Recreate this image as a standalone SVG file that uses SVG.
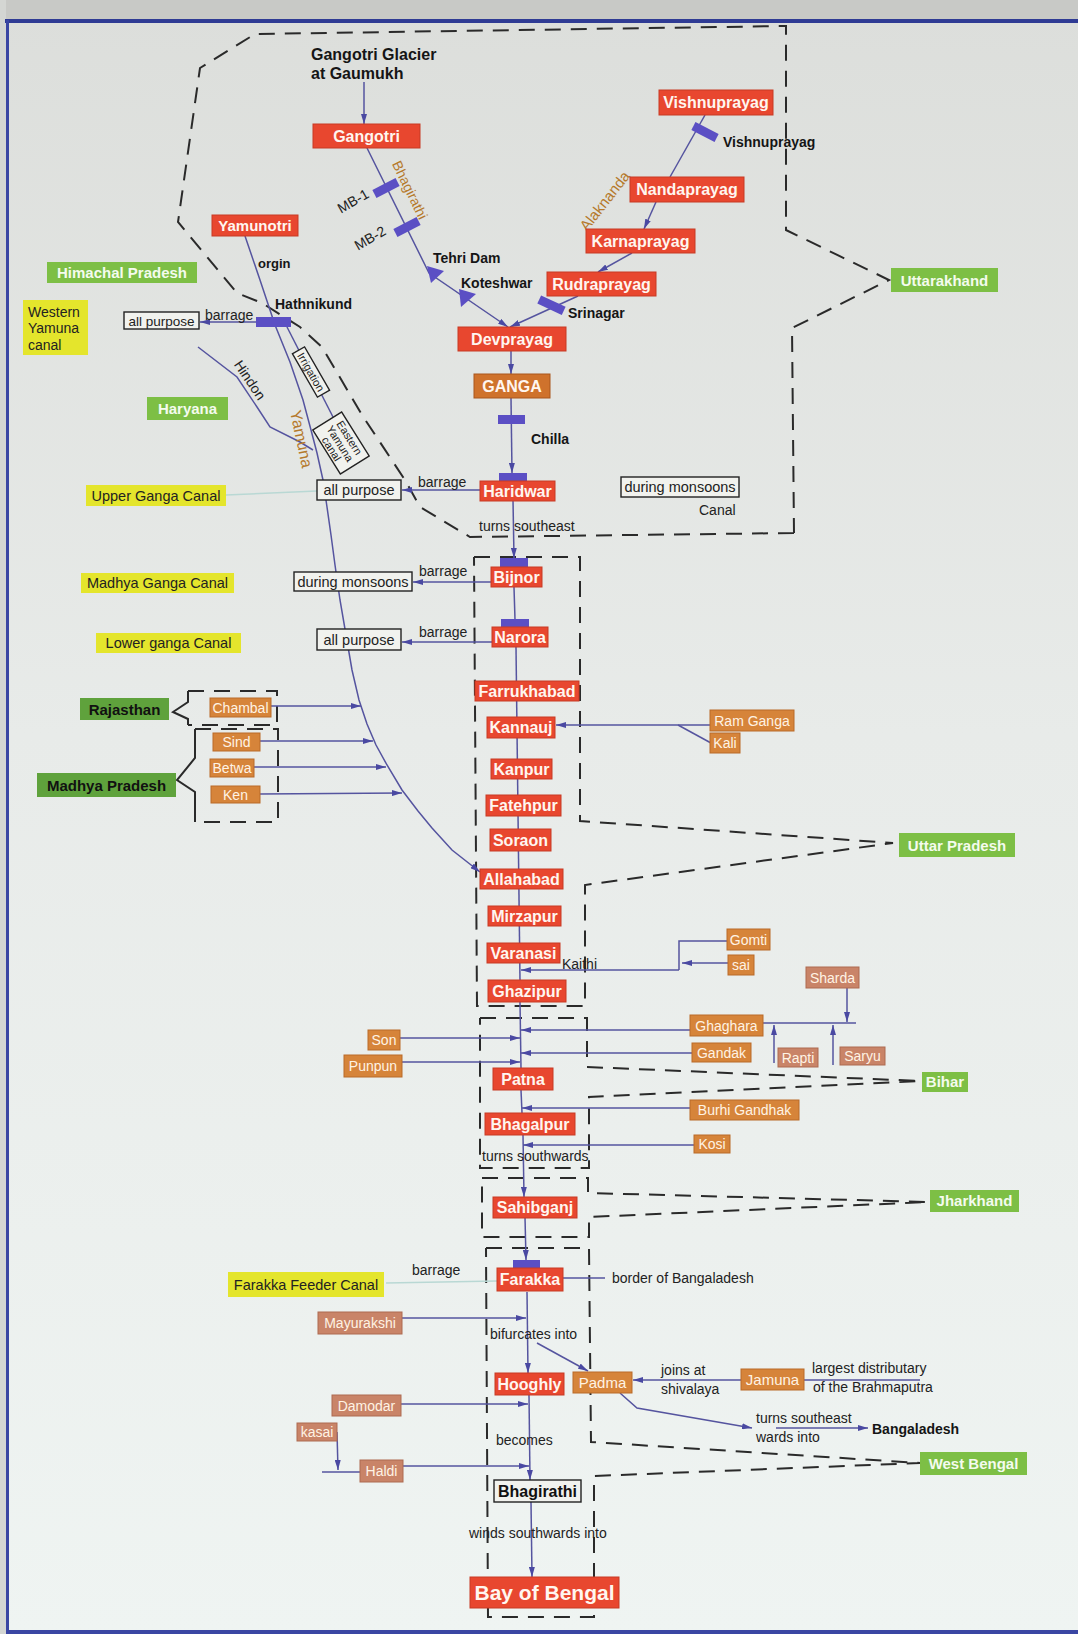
<svg xmlns="http://www.w3.org/2000/svg" width="1078" height="1634" viewBox="0 0 1078 1634">
<defs>
<linearGradient id="bg" x1="0" y1="0" x2="0" y2="1">
<stop offset="0" stop-color="#dcdedb"/>
<stop offset="0.45" stop-color="#e8ebe9"/>
<stop offset="1" stop-color="#eff4f2"/>
</linearGradient>
<marker id="ah" viewBox="0 0 10 6" refX="10" refY="3" markerWidth="10" markerHeight="6" markerUnits="userSpaceOnUse" orient="auto">
<path d="M0,0 L10,3 L0,6 z" fill="#4a49a2"/>
</marker>
<style>
.r{fill:#e8472f;stroke:#c73a25;stroke-width:1}
.o{fill:#d6843a;stroke:#b96a28;stroke-width:1}
.s{fill:#c98468;stroke:#ad6a50;stroke-width:1}
.g{fill:#7dbf45}
.dg{fill:#5fa23c}
.y{fill:#e4e52c}
.wb{fill:#f1f2ee;stroke:#222;stroke-width:1.4}
.bar{fill:#5b4fc4}
text{font-family:"Liberation Sans",Arial,sans-serif}
.lt{font-size:16px;font-weight:bold;fill:#fff6f0;text-anchor:middle}
.tt{font-size:14px;fill:#fff3e4;text-anchor:middle}
.gt{font-size:15px;font-weight:bold;fill:#f4fbee;text-anchor:middle}
.dgt{font-size:15px;font-weight:bold;fill:#111;text-anchor:middle}
.yt{font-size:14.5px;fill:#222;text-anchor:middle}
.yl{font-size:14px;fill:#222}
.tx{font-size:14px;fill:#222}
.bx{font-size:14px;font-weight:bold;fill:#151515}
.rv{font-size:14px;fill:#b5792b;text-anchor:middle}
.ln{stroke:#55549f;stroke-width:1.5;fill:none}
.lm{stroke:#55549f;stroke-width:1.5;fill:none;marker-end:url(#ah)}
.faint{stroke:#b9d8d4;stroke-width:1.5;fill:none}
.dash{stroke:#2a2a2a;stroke-width:2;fill:none;stroke-dasharray:16 10}
.sol{stroke:#2a2a2a;stroke-width:2;fill:none}
</style>
</defs>
<rect x="0" y="0" width="1078" height="1634" fill="url(#bg)"/>
<rect x="0" y="0" width="1078" height="20" fill="#c8c9c6"/>
<rect x="0" y="0" width="6" height="1634" fill="#d4d6d3"/>
<rect x="5" y="19" width="1073" height="4" fill="#2f3b94"/>
<rect x="6" y="20" width="3" height="1614" fill="#3a46a3"/>
<rect x="6" y="1630" width="1072" height="4" fill="#3a46a3"/>

<g id="regions">
<path class="dash" d="M794,533 L470,537 L420,507 L405,480 L362,415 L322,347 L300,327 L262,303 L237,293 L178,222 L200,68 L255,34 L786,26 L786,230 L889,280 L792,328 L794,533"/>
<path class="dash" d="M474,557 L580,557 L580,821 L893,843 L585,885 L585,1006 L477,1006 L474,557"/>
<path class="dash" d="M480,1018 L587,1018 L587,1067 L920,1081 L589,1097 L589,1168 L480,1168 L480,1018"/>
<path class="dash" d="M482,1178 L588,1178 L588,1193 L928,1202 L589,1217 L589,1237 L482,1237 L482,1178"/>
<path class="dash" d="M486,1248 L589,1248 L591,1442 L920,1463 L594,1476 L594,1617 L488,1617 L486,1248"/>
<path class="dash" d="M188,691 L277,691 L277,725 L188,725"/>
<path class="sol" d="M188,691 L188,702 L173,712 L188,719 L188,725"/>
<path class="dash" d="M195,729 L278,729 L278,822 L195,822"/>
<path class="sol" d="M195,729 L195,758 L177,780 L195,792 L195,822"/>
</g>

<g id="connectors">
<path class="lm" d="M364,82 L364,124"/>
<path class="lm" d="M367,148 L429,273 L508,327"/>
<path class="ln" d="M705,115 L670,177"/>
<path class="lm" d="M656,202 L644,229"/>
<path class="lm" d="M632,253 L598,272"/>
<path class="lm" d="M578,296 L510,327"/>
<path class="lm" d="M511,351 L511,374"/>
<path class="lm" d="M511,398 L512,473"/>
<path class="lm" d="M513,500 L514,558"/>
<path class="ln" d="M514,587 L515,620"/>
<path class="ln" d="M516,647 L520,980"/>
<path class="ln" d="M520,1002 L521,1068"/>
<path class="ln" d="M521,1090 L522,1113"/>
<path class="lm" d="M523,1135 L524,1197"/>
<path class="lm" d="M525,1217 L526,1260"/>
<path class="lm" d="M527,1292 L528,1373"/>
<path class="lm" d="M529,1395 L530,1480"/>
<path class="lm" d="M531,1502 L532,1577"/>
<path class="lm" d="M537,1343 L588,1371"/>
<path class="lm" d="M741,1380 L633,1380"/>
<path class="ln" d="M804,1380 L920,1380"/>
<path class="lm" d="M620,1393 L637,1408 L752,1428"/>
<path class="lm" d="M776,1428 L868,1428"/>
<path class="lm" d="M480,490 L402,490"/>
<path class="lm" d="M491,582 L413,582"/>
<path class="lm" d="M492,642 L402,642"/>
<path class="lm" d="M256,322 L200,322"/>
<path class="faint" d="M226,495 L317,491"/>
<path class="faint" d="M386,1283 L497,1281"/>
<path class="lm" d="M245,236 L260,280 L275,325 L290,362 L303,400 L311,430 L317,453 L323,480 L327,507 L331,535 L335,565 L340,600 L346,635 L352,670 L359,700 L367,724 L376,745 L387,765 L402,790 L418,811 L432,828 L452,850 L480,872"/>
<path class="ln" d="M198,347 L237,377 L257,407 L270,427 L300,442 L313,450"/>
<path class="ln" d="M287,327 L333,417"/>
<path class="lm" d="M271,706 L361,706"/>
<path class="lm" d="M260,741 L373,741"/>
<path class="lm" d="M254,767 L386,767"/>
<path class="lm" d="M260,794 L402,793"/>
<path class="lm" d="M710,725 L556,725"/>
<path class="ln" d="M711,743 L678,725"/>
<path class="ln" d="M727,941 L679,941 L679,970"/>
<path class="lm" d="M728,963 L682,963"/>
<path class="lm" d="M679,970 L521,970"/>
<path class="lm" d="M847,988 L847,1022"/>
<path class="ln" d="M763,1023 L856,1023"/>
<path class="lm" d="M690,1030 L521,1030"/>
<path class="lm" d="M774,1063 L774,1025"/>
<path class="lm" d="M833,1065 L833,1025"/>
<path class="lm" d="M692,1053 L521,1053"/>
<path class="lm" d="M400,1038 L520,1038"/>
<path class="lm" d="M402,1062 L520,1062"/>
<path class="lm" d="M690,1108 L522,1108"/>
<path class="lm" d="M694,1145 L523,1145"/>
<path class="lm" d="M402,1318 L526,1318"/>
<path class="lm" d="M401,1404 L528,1404"/>
<path class="lm" d="M337,1432 L338,1470"/>
<path class="ln" d="M322,1472 L360,1472"/>
<path class="lm" d="M403,1466 L529,1466"/>
<path class="ln" d="M563,1278 L605,1278"/>
</g>

<g id="dams">
<rect class="bar" x="256" y="317" width="35" height="10"/>
<rect class="bar" x="498" y="415" width="27" height="9"/>
<rect class="bar" x="499" y="473" width="28" height="9"/>
<rect class="bar" x="500" y="558" width="28" height="9"/>
<rect class="bar" x="501" y="619" width="28" height="9"/>
<rect class="bar" x="513" y="1260" width="27" height="8"/>
<rect class="bar" x="-13" y="-4.5" width="26" height="9" transform="translate(386,188) rotate(-27)"/>
<rect class="bar" x="-13" y="-4.5" width="26" height="9" transform="translate(407,227) rotate(-27)"/>
<rect class="bar" x="-13" y="-4.5" width="26" height="9" transform="translate(705,132) rotate(27)"/>
<rect class="bar" x="-13" y="-4.5" width="27" height="9" transform="translate(551,305) rotate(25)"/>
<polygon class="bar" points="427,266 444,271 431,283"/>
<polygon class="bar" points="459,289 476,294 461,307"/>
</g>

<g id="labels">
<text class="bx" x="311" y="60" style="font-size:16px">Gangotri Glacier</text>
<text class="bx" x="311" y="79" style="font-size:16px">at Gaumukh</text>
<text class="bx" x="723" y="147">Vishnuprayag</text>
<text class="bx" x="433" y="263">Tehri Dam</text>
<text class="bx" x="461" y="288">Koteshwar</text>
<text class="bx" x="568" y="318">Srinagar</text>
<text class="bx" x="275" y="309">Hathnikund</text>
<text class="bx" x="531" y="444">Chilla</text>
<text class="bx" x="258" y="268" style="font-size:13px">orgin</text>
<text class="tx" x="0" y="5" text-anchor="middle" transform="translate(353,201) rotate(-30)">MB-1</text>
<text class="tx" x="0" y="5" text-anchor="middle" transform="translate(370,238) rotate(-30)">MB-2</text>
<text class="rv" x="0" y="5" transform="translate(410,190) rotate(64)">Bhagirathi</text>
<text class="rv" x="0" y="5" style="font-size:15px" transform="translate(605,201) rotate(-52)">Alaknanda</text>
<text class="rv" x="0" y="5" style="font-size:16px" transform="translate(301,439) rotate(78)">Yamuna</text>
<text class="tx" x="0" y="5" text-anchor="middle" transform="translate(250,380) rotate(56)">Hindon</text>
<text class="tx" x="205" y="320">barrage</text>
<text class="tx" x="418" y="487">barrage</text>
<text class="tx" x="419" y="576">barrage</text>
<text class="tx" x="419" y="637">barrage</text>
<text class="tx" x="412" y="1275">barrage</text>
<text class="tx" x="699" y="515">Canal</text>
<text class="tx" x="479" y="531">turns southeast</text>
<text class="tx" x="562" y="969">Kaithi</text>
<text class="tx" x="482" y="1161">turns southwards</text>
<text class="tx" x="612" y="1283">border of Bangaladesh</text>
<text class="tx" x="490" y="1339">bifurcates into</text>
<text class="tx" x="661" y="1375">joins at</text>
<text class="tx" x="661" y="1394">shivalaya</text>
<text class="tx" x="812" y="1373">largest distributary</text>
<text class="tx" x="813" y="1392">of the Brahmaputra</text>
<text class="tx" x="756" y="1423">turns southeast</text>
<text class="tx" x="756" y="1442">wards into</text>
<text class="bx" x="872" y="1434">Bangaladesh</text>
<text class="tx" x="496" y="1445">becomes</text>
<text class="tx" x="469" y="1538">winds southwards into</text>
</g>

<g id="n-gangotri"><rect class="r" x="313" y="124" width="107" height="24"/><text class="lt" x="366.5" y="141.5">Gangotri</text></g>
<g id="n-yamunotri"><rect class="r" x="212" y="215" width="86" height="21"/><text class="lt" x="255" y="231" style="font-size:15px">Yamunotri</text></g>
<g id="n-vishnuprayag"><rect class="r" x="659" y="90" width="114" height="25"/><text class="lt" x="716" y="108">Vishnuprayag</text></g>
<g id="n-nandaprayag"><rect class="r" x="630" y="177" width="114" height="25"/><text class="lt" x="687" y="195">Nandaprayag</text></g>
<g id="n-karnaprayag"><rect class="r" x="586" y="229" width="109" height="24"/><text class="lt" x="640.5" y="246.5">Karnaprayag</text></g>
<g id="n-rudraprayag"><rect class="r" x="547" y="272" width="109" height="24"/><text class="lt" x="601.5" y="289.5">Rudraprayag</text></g>
<g id="n-devprayag"><rect class="r" x="458" y="327" width="108" height="24"/><text class="lt" x="512" y="344.5">Devprayag</text></g>
<g id="n-ganga"><rect x="474" y="374" width="76" height="24" fill="#cf722c" stroke="#a9561c"/><text class="lt" x="512" y="392">GANGA</text></g>
<g id="n-haridwar"><rect class="r" x="480" y="481" width="75" height="20"/><text class="lt" x="517.5" y="496.5">Haridwar</text></g>
<g id="n-bijnor"><rect class="r" x="491" y="567" width="51" height="20"/><text class="lt" x="516.5" y="582.5">Bijnor</text></g>
<g id="n-narora"><rect class="r" x="492" y="627" width="56" height="20"/><text class="lt" x="520" y="642.5">Narora</text></g>
<g id="n-farrukhabad"><rect class="r" x="475" y="681" width="104" height="20"/><text class="lt" x="527" y="696.5">Farrukhabad</text></g>
<g id="n-kannauj"><rect class="r" x="487" y="717" width="68" height="21"/><text class="lt" x="521" y="733">Kannauj</text></g>
<g id="n-kanpur"><rect class="r" x="491" y="759" width="61" height="20"/><text class="lt" x="521.5" y="774.5">Kanpur</text></g>
<g id="n-fatehpur"><rect class="r" x="486" y="795" width="75" height="21"/><text class="lt" x="523.5" y="811">Fatehpur</text></g>
<g id="n-soraon"><rect class="r" x="490" y="829" width="61" height="22"/><text class="lt" x="520.5" y="845.5">Soraon</text></g>
<g id="n-allahabad"><rect class="r" x="480" y="869" width="83" height="20"/><text class="lt" x="521.5" y="884.5">Allahabad</text></g>
<g id="n-mirzapur"><rect class="r" x="488" y="906" width="73" height="20"/><text class="lt" x="524.5" y="921.5">Mirzapur</text></g>
<g id="n-varanasi"><rect class="r" x="487" y="943" width="73" height="20"/><text class="lt" x="523.5" y="958.5">Varanasi</text></g>
<g id="n-ghazipur"><rect class="r" x="488" y="980" width="78" height="22"/><text class="lt" x="527" y="996.5">Ghazipur</text></g>
<g id="n-patna"><rect class="r" x="493" y="1068" width="60" height="22"/><text class="lt" x="523" y="1084.5">Patna</text></g>
<g id="n-bhagalpur"><rect class="r" x="485" y="1113" width="90" height="22"/><text class="lt" x="530" y="1129.5">Bhagalpur</text></g>
<g id="n-sahibganj"><rect class="r" x="493" y="1197" width="84" height="21"/><text class="lt" x="535" y="1213">Sahibganj</text></g>
<g id="n-farakka"><rect class="r" x="497" y="1268" width="66" height="23"/><text class="lt" x="530" y="1285">Farakka</text></g>
<g id="n-hooghly"><rect class="r" x="495" y="1373" width="69" height="22"/><text class="lt" x="529.5" y="1389.5">Hooghly</text></g>
<g id="n-bhagirathi"><rect class="wb" x="494" y="1480" width="87" height="22"/><text x="537.5" y="1496.5" text-anchor="middle" style="font-size:16px;font-weight:bold;fill:#111">Bhagirathi</text></g>
<g id="n-bay"><rect class="r" x="470" y="1577" width="149" height="31"/><text class="lt" x="544.5" y="1600" style="font-size:21px">Bay of Bengal</text></g>

<g id="n-chambal"><rect class="o" x="210" y="698" width="61" height="19"/><text class="tt" x="240.5" y="712.5">Chambal</text></g>
<g id="n-sind"><rect class="o" x="213" y="733" width="47" height="18"/><text class="tt" x="236.5" y="747">Sind</text></g>
<g id="n-betwa"><rect class="o" x="210" y="759" width="44" height="18"/><text class="tt" x="232" y="773">Betwa</text></g>
<g id="n-ken"><rect class="o" x="211" y="786" width="49" height="17"/><text class="tt" x="235.5" y="799.5">Ken</text></g>
<g id="n-ramganga"><rect class="o" x="710" y="710" width="84" height="21"/><text class="tt" x="752" y="725.5">Ram Ganga</text></g>
<g id="n-kali"><rect class="o" x="710" y="733" width="30" height="20"/><text class="tt" x="725" y="748">Kali</text></g>
<g id="n-gomti"><rect class="o" x="727" y="929" width="43" height="21"/><text class="tt" x="748.5" y="944.5">Gomti</text></g>
<g id="n-sai"><rect class="o" x="728" y="955" width="26" height="20"/><text class="tt" x="741" y="970">sai</text></g>
<g id="n-sharda"><rect class="s" x="806" y="967" width="53" height="21"/><text class="tt" x="832.5" y="982.5">Sharda</text></g>
<g id="n-ghaghara"><rect class="o" x="690" y="1015" width="73" height="21"/><text class="tt" x="726.5" y="1030.5">Ghaghara</text></g>
<g id="n-rapti"><rect class="s" x="778" y="1048" width="40" height="19"/><text class="tt" x="798" y="1062.5">Rapti</text></g>
<g id="n-saryu"><rect class="s" x="840" y="1047" width="45" height="18"/><text class="tt" x="862.5" y="1061">Saryu</text></g>
<g id="n-gandak"><rect class="o" x="692" y="1043" width="59" height="19"/><text class="tt" x="721.5" y="1057.5">Gandak</text></g>
<g id="n-son"><rect class="o" x="368" y="1030" width="32" height="20"/><text class="tt" x="384" y="1045">Son</text></g>
<g id="n-punpun"><rect class="o" x="344" y="1055" width="58" height="22"/><text class="tt" x="373" y="1071">Punpun</text></g>
<g id="n-burhigandhak"><rect class="o" x="690" y="1100" width="109" height="20"/><text class="tt" x="744.5" y="1115">Burhi Gandhak</text></g>
<g id="n-kosi"><rect class="o" x="694" y="1135" width="36" height="18"/><text class="tt" x="712" y="1149">Kosi</text></g>
<g id="n-mayurakshi"><rect class="s" x="318" y="1312" width="84" height="22"/><text class="tt" x="360" y="1328">Mayurakshi</text></g>
<g id="n-damodar"><rect class="s" x="332" y="1395" width="69" height="21"/><text class="tt" x="366.5" y="1410.5">Damodar</text></g>
<g id="n-kasai"><rect class="s" x="297" y="1423" width="40" height="18"/><text class="tt" x="317" y="1437">kasai</text></g>
<g id="n-haldi"><rect class="s" x="360" y="1460" width="43" height="22"/><text class="tt" x="381.5" y="1476">Haldi</text></g>
<g id="n-padma"><rect class="o" x="573" y="1372" width="59" height="21"/><text class="tt" x="602.5" y="1387.5" style="font-size:15px">Padma</text></g>
<g id="n-jamuna"><rect class="o" x="741" y="1369" width="63" height="21"/><text class="tt" x="772.5" y="1384.5" style="font-size:15px">Jamuna</text></g>

<g id="n-himachal"><rect class="g" x="47" y="262" width="150" height="21"/><text class="gt" x="122" y="277.5">Himachal Pradesh</text></g>
<g id="n-haryana"><rect class="g" x="147" y="397" width="81" height="23"/><text class="gt" x="187.5" y="413.5">Haryana</text></g>
<g id="n-uttarakhand"><rect class="g" x="891" y="268" width="107" height="24"/><text class="gt" x="944.5" y="285.5">Uttarakhand</text></g>
<g id="n-up"><rect class="g" x="899" y="833" width="116" height="24"/><text class="gt" x="957" y="850.5">Uttar Pradesh</text></g>
<g id="n-bihar"><rect class="g" x="922" y="1072" width="46" height="20"/><text class="gt" x="945" y="1087">Bihar</text></g>
<g id="n-jharkhand"><rect class="g" x="930" y="1190" width="89" height="22"/><text class="gt" x="974.5" y="1206">Jharkhand</text></g>
<g id="n-westbengal"><rect class="g" x="920" y="1452" width="107" height="23"/><text class="gt" x="973.5" y="1469">West Bengal</text></g>
<g id="n-rajasthan"><rect class="dg" x="80" y="698" width="89" height="22"/><text class="dgt" x="124.5" y="714.5">Rajasthan</text></g>
<g id="n-mp"><rect class="dg" x="37" y="773" width="139" height="24"/><text class="dgt" x="106.5" y="790.5">Madhya Pradesh</text></g>

<g id="n-wyc"><rect class="y" x="23" y="300" width="65" height="55"/><text class="yl" x="28" y="317">Western</text><text class="yl" x="28" y="333">Yamuna</text><text class="yl" x="28" y="350">canal</text></g>
<g id="n-ugc"><rect class="y" x="86" y="485" width="140" height="21"/><text class="yt" x="156" y="500.5">Upper Ganga Canal</text></g>
<g id="n-mgc"><rect class="y" x="81" y="573" width="153" height="20"/><text class="yt" x="157.5" y="588">Madhya Ganga Canal</text></g>
<g id="n-lgc"><rect class="y" x="96" y="633" width="145" height="20"/><text class="yt" x="168.5" y="648">Lower ganga Canal</text></g>
<g id="n-ffc"><rect class="y" x="228" y="1272" width="156" height="25"/><text class="yt" x="306" y="1289.5">Farakka Feeder Canal</text></g>

<g id="n-ap1"><rect class="wb" x="124" y="312" width="75" height="17"/><text class="yt" x="161.5" y="325.5" style="font-size:13.5px">all purpose</text></g>
<g id="n-ap2"><rect class="wb" x="317" y="480" width="84" height="20"/><text class="yt" x="359" y="495">all purpose</text></g>
<g id="n-dm1"><rect class="wb" x="294" y="572" width="118" height="19"/><text class="yt" x="353" y="586.5">during monsoons</text></g>
<g id="n-ap3"><rect class="wb" x="317" y="629" width="84" height="21"/><text class="yt" x="359" y="644.5">all purpose</text></g>
<g id="n-dm2"><rect class="wb" x="621" y="477" width="118" height="20"/><text class="yt" x="680" y="492">during monsoons</text></g>
<g id="n-irrigation" transform="translate(311,372) rotate(60)"><rect class="wb" x="-25" y="-7" width="50" height="14"/><text x="0" y="4" text-anchor="middle" style="font-size:11px;fill:#222">Irrigation</text></g>
<g id="n-eyc" transform="translate(341,443) rotate(58)"><rect class="wb" x="-26" y="-17" width="52" height="34"/><text x="0" y="-6" text-anchor="middle" style="font-size:11px;fill:#222">Eastern</text><text x="0" y="5" text-anchor="middle" style="font-size:11px;fill:#222">Yamuna</text><text x="0" y="15" text-anchor="middle" style="font-size:11px;fill:#222">canal</text></g>
</svg>
